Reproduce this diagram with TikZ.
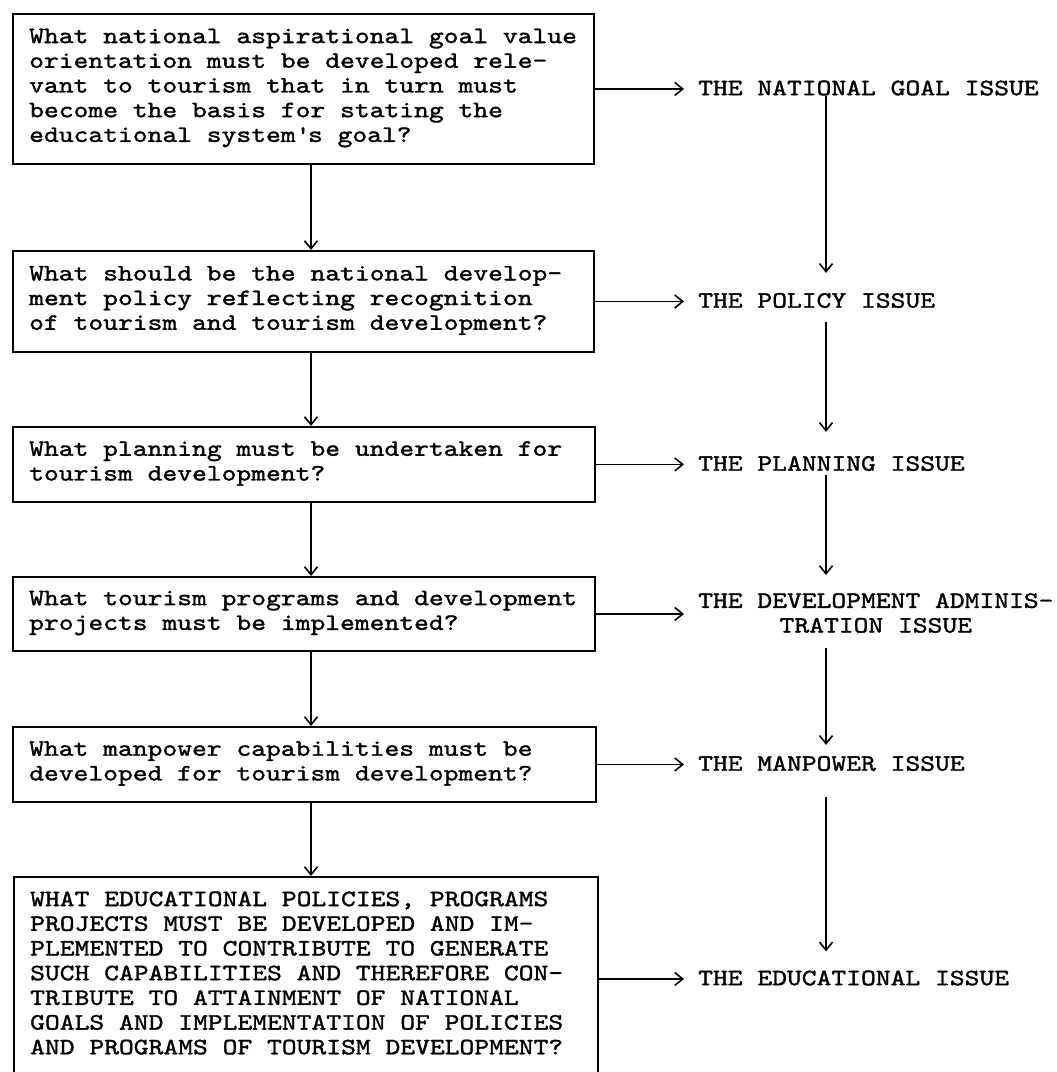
\documentclass[tikz,border=0pt]{standalone}
\usepackage{fontspec}
\newfontfamily\tw{lmmono10-regular}[Extension=.otf, FakeStretch=1.2, FakeBold=1.4]
\usetikzlibrary{arrows.meta}
\begin{document}
\begin{tikzpicture}[x=1pt,y=-1pt,
  box/.style={draw, line width=1.9pt, rectangle, inner sep=0pt, anchor=north west},
  txt/.style={font=\tw\fontsize{23.5}{24.7}\selectfont, align=left, anchor=west, inner sep=0pt},
  lab/.style={font=\tw\fontsize{23.5}{24.7}\selectfont, align=center, anchor=west, inner sep=0pt},
  arr/.style={line width=1.6pt, -{Straight Barb[length=8pt,width=13pt,line width=1.6pt]}}]
\useasboundingbox (0,0) rectangle (1057,1072);
\clip (0,0) rectangle (1057,1072);
\fill[white] (0,0) rectangle (1057,1072);

% question boxes
\node[box, minimum width=581pt, minimum height=150pt] (b1) at (12,13) {};
\node[box, minimum width=581pt, minimum height=101pt] (b2) at (12,250) {};
\node[box, minimum width=582pt, minimum height=75pt]  (b3) at (12,426) {};
\node[box, minimum width=582pt, minimum height=74pt]  (b4) at (12,576) {};
\node[box, minimum width=583pt, minimum height=75pt]  (b5) at (12,726) {};
\node[box, minimum width=584pt, minimum height=204pt] (b6) at (13,876) {};

% question texts
\node[txt] (t1) at (29,88) {What national aspirational goal value\\orientation must be developed rele-\\vant to tourism that in turn must\\become the basis for stating the\\educational system\textquotesingle s goal?};
\node[txt] (t2) at (29,300.5) {What should be the national develop-\\ment policy reflecting recognition\\of tourism and tourism development?};
\node[txt] (t3) at (29,463.5) {What planning must be undertaken for\\tourism development?};
\node[txt] (t4) at (29,613) {What tourism programs and development\\projects must be implemented?};
\node[txt] (t5) at (29,763.5) {What manpower capabilities must be\\developed for tourism development?};
\node[txt] (t6) at (30,973) {WHAT EDUCATIONAL POLICIES, PROGRAMS\\PROJECTS MUST BE DEVELOPED AND IM-\\PLEMENTED TO CONTRIBUTE TO GENERATE\\SUCH CAPABILITIES AND THEREFORE CON-\\TRIBUTE TO ATTAINMENT OF NATIONAL\\GOALS AND IMPLEMENTATION OF POLICIES\\AND PROGRAMS OF TOURISM DEVELOPMENT?};

% issue labels
\node[lab] (l1) at (698,88) {THE NATIONAL GOAL ISSUE};
\node[lab] (l2) at (698,300.5) {THE POLICY ISSUE};
\node[lab] (l3) at (698,463.5) {THE PLANNING ISSUE};
\node[lab] (l4) at (698,613) {THE DEVELOPMENT ADMINIS-\\TRATION ISSUE};
\node[lab] (l5) at (698,763.5) {THE MANPOWER ISSUE};
\node[lab] (l6) at (698,978) {THE EDUCATIONAL ISSUE};

\coordinate (dx) at (311,0);
\coordinate (cx) at (826,0);

% left chain
\draw[arr] (b1.south -| dx) -- (b2.north -| dx);
\draw[arr] (b2.south -| dx) -- (b3.north -| dx);
\draw[arr] (b3.south -| dx) -- (b4.north -| dx);
\draw[arr] (b4.south -| dx) -- (b5.north -| dx);
\draw[arr] (b5.south -| dx) -- (b6.north -| dx);

% box to issue
\draw[arr, shorten >=14pt] (b1.east) -- (b1.east -| l1.west);
\draw[arr, shorten >=14pt] (b2.east) -- (b2.east -| l2.west);
\draw[arr, shorten >=14pt] (b3.east) -- (b3.east -| l3.west);
\draw[arr, shorten >=14pt] (b4.east) -- (b4.east -| l4.west);
\draw[arr, shorten >=14pt] (b5.east) -- (b5.east -| l5.west);
\draw[arr, shorten >=14pt] (b6.east) -- (b6.east -| l6.west);

% issue chain
\draw[arr, shorten >=20pt] (l1.south -| cx) -- (l2.north -| cx);
\draw[arr, shorten <=14pt, shorten >=24pt] (l2.south -| cx) -- (l3.north -| cx);
\draw[arr, shorten <=4pt, shorten >=18pt] (l3.south -| cx) -- (l4.north -| cx);
\draw[arr, shorten <=15pt, shorten >=11pt] (l4.south -| cx) -- (l5.north -| cx);
\draw[arr, shorten <=26pt, shorten >=19pt] (l5.south -| cx) -- (l6.north -| cx);
\end{tikzpicture}
\end{document}
